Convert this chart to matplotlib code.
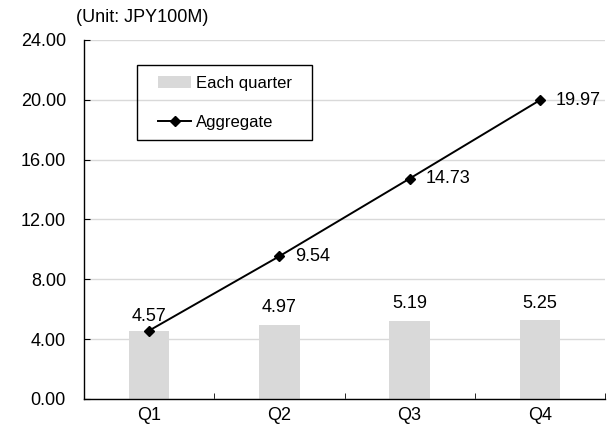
import matplotlib
matplotlib.use("Agg")
import matplotlib.pyplot as plt
from matplotlib.patches import Rectangle
import numpy as np

plt.rcParams['font.family'] = ['Liberation Sans', 'DejaVu Sans']

quarters = ["Q1", "Q2", "Q3", "Q4"]
each_quarter = [4.57, 4.97, 5.19, 5.25]
aggregate = [4.57, 9.54, 14.73, 19.97]
yticks = [0, 4, 8, 12, 16, 20, 24]

FS = 13

fig = plt.figure(figsize=(6.09, 4.29), dpi=100)
ax = fig.add_axes([84 / 609, 0.070, 521 / 609, 0.837])

x = np.arange(len(quarters))
bars = ax.bar(x, each_quarter, width=0.31, color="#d9d9d9", label="Each quarter", zorder=2)
line, = ax.plot(x, aggregate, color="black", lw=1.4, marker="D", markersize=5,
                label="Aggregate", zorder=3)

ax.set_xlim(-0.5, len(quarters) - 0.5)
ax.set_ylim(0, 24)
ax.set_yticks(yticks)
ax.set_yticklabels([f"{v:.2f}" for v in yticks])
ax.set_xticks(x)
ax.set_xticklabels(quarters)
ax.set_xticks(np.arange(len(quarters) + 1) - 0.5, minor=True)

ax.grid(axis="y", color="#d9d9d9", lw=1, zorder=0)
ax.set_axisbelow(True)
for s in ["top", "right"]:
    ax.spines[s].set_visible(False)
for s in ["left", "bottom"]:
    ax.spines[s].set_color("black")
    ax.spines[s].set_linewidth(1)

ax.tick_params(axis="y", direction="in", length=4, labelsize=FS, pad=13, colors="black")
ax.tick_params(axis="x", which="major", length=0, labelsize=FS, pad=6)
ax.tick_params(axis="x", which="minor", direction="in", length=4)

# bar labels
for i, v in enumerate(each_quarter):
    off = 10 if i == 0 else 12.5
    ax.annotate(f"{v:.2f}", (x[i], v), xytext=(0, off), textcoords="offset points",
                ha="center", va="center", fontsize=FS)
# line labels
for i, v in enumerate(aggregate):
    if i == 0:
        continue
    ax.annotate(f"{v:.2f}", (x[i], v), xytext=(11.5, 0), textcoords="offset points",
                ha="left", va="center", fontsize=FS)

# legend box
ax.add_patch(Rectangle(((137 - 84) / 521, (399 - 140) / 359), 175 / 521, 75 / 359,
                       transform=ax.transAxes, fill=False, edgecolor="black", lw=1,
                       zorder=4, clip_on=False))
leg = ax.legend(handles=[bars, line], loc="upper left", bbox_to_anchor=((158 - 84) / 521, (399 - 76) / 359),
                frameon=False, fontsize=12, borderpad=0, borderaxespad=0,
                handlelength=2.0, labelspacing=1.42, handletextpad=0.25)

fig.text(76 / 609, 1 - 18 / 429, "(Unit: JPY100M)", ha="left", va="center", fontsize=FS)

fig.savefig("out.png", dpi=100)
